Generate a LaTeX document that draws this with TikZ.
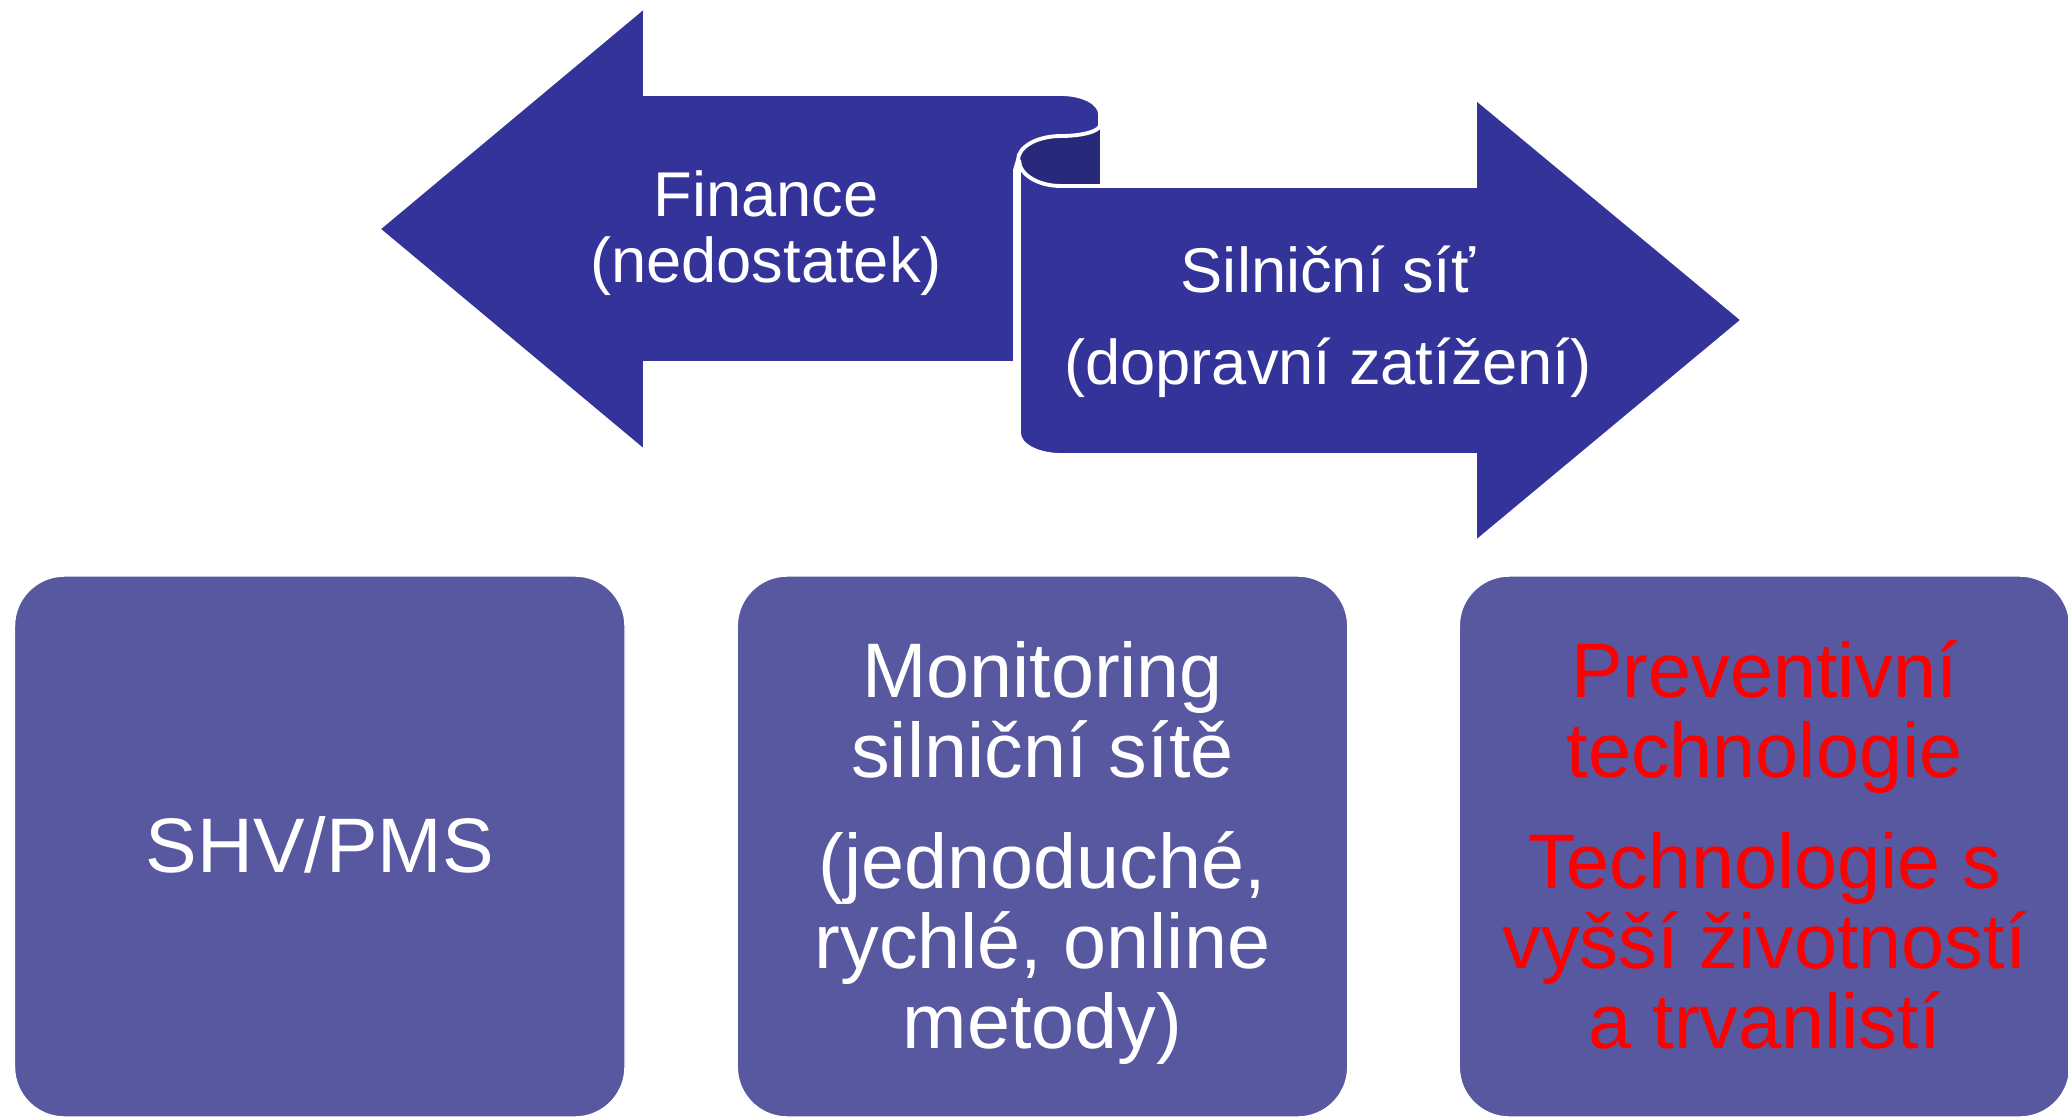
\documentclass[tikz,border=0pt]{standalone}
\usepackage{fontspec}
\setmainfont{Liberation Sans}
\usepackage{tikz}
\usetikzlibrary{positioning,calc}

\definecolor{arrowblue}{RGB}{51,51,153}
\definecolor{rolldark}{RGB}{41,41,124}
\definecolor{boxblue}{RGB}{88,88,160}

\tikzset{
  arrowshape/.style={fill=arrowblue, draw=white, line width=1.1pt},
  infobox/.style={rectangle, rounded corners=5mm, fill=boxblue, draw=white, line width=0.4pt,
    minimum width=61.05mm, minimum height=54.1mm, inner sep=0pt},
  arrowtxt/.style={anchor=base, text=white, inner sep=0pt, font=\fontsize{18}{20}\selectfont},
  boxtxt/.style={anchor=base, text=white, inner sep=0pt, font=\fontsize{22}{24}\selectfont},
  redtxt/.style={boxtxt, text=red}
}

\begin{document}
\begin{tikzpicture}[x=0.1mm, y=-0.1mm]
    % Page frame
    \useasboundingbox (0,0) rectangle (2068,1116);
    \clip (0,0) rectangle (2068,1116);

    % Inside of the roll
    \fill[rolldark] (1018,112) rectangle (1100,186);

    % Left arrow
    \draw[arrowshape] (1015,363) -- (645,363) -- (645,452) -- (378,229) -- (645,6) -- (645,94) -- (1061,94)
        arc[start angle=-90, end angle=0, x radius=39, y radius=20] -- (1100,125)
        arc[start angle=0, end angle=90, x radius=39, y radius=11]
        arc[start angle=-90, end angle=-180, x radius=43, y radius=24]
        -- (1015,170) -- cycle;

    % Right arrow
    \draw[arrowshape] (1061,186) -- (1475,186) -- (1475,97.5) -- (1743,320) -- (1475,543) -- (1475,455) -- (1061,455)
        arc[start angle=90, end angle=180, x radius=42, y radius=22] -- (1019,160)
        arc[start angle=180, end angle=90, x radius=42, y radius=26] -- cycle;

    % Arrow labels
    \node[arrowtxt] (fin1) at (766,216) {Finance};
    \node[arrowtxt] (fin2) at (766,282) {(nedostatek)};
    \node[arrowtxt] (sit1) at (1328,292) {Silniční síť};
    \node[arrowtxt] (sit2) at (1328,384) {(dopravní zatížení)};

    % Boxes
    \node[infobox] (shv) at (319.75,846.5) {};
    \node[infobox] (mon) at (1042.5,846.5) {};
    \node[infobox] (prev) at (1764.5,846.5) {};

    % Box texts
    \node[boxtxt] (shvtxt) at (319.75,872) {SHV/PMS};
    \foreach \i/\ty/\txt in {1/697/Monitoring, 2/777/silniční sítě, 3/888/{(jednoduché,}, 4/968/{rychlé, online}, 5/1048/{metody)}}
        \node[boxtxt] (mon\i) at (1042.5,\ty) {\txt};
    \foreach \i/\ty/\txt in {1/697/Preventivní, 2/777/technologie, 3/888/Technologie s, 4/968/vyšší životností, 5/1048/a trvanlistí}
        \node[redtxt] (prev\i) at (1764.5,\ty) {\txt};
\end{tikzpicture}
\end{document}
